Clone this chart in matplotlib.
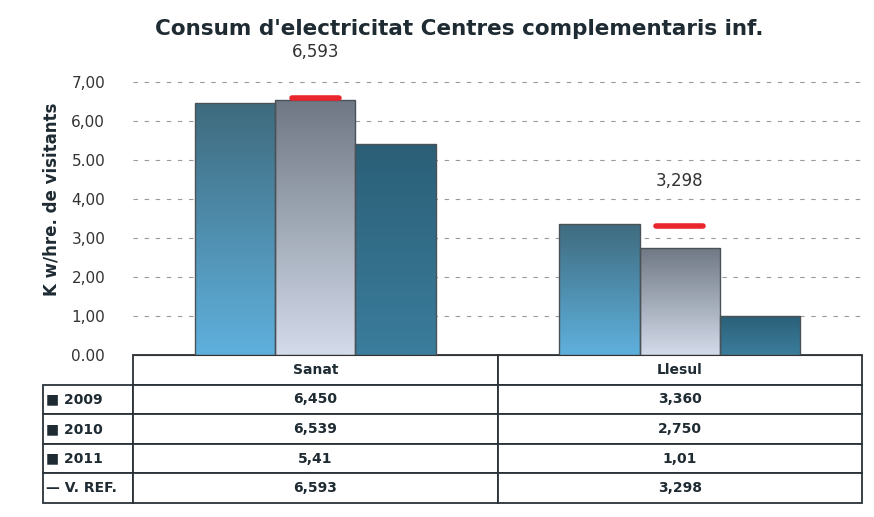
import numpy as np
import matplotlib
matplotlib.use("Agg")
import matplotlib.pyplot as plt
from matplotlib.colors import LinearSegmentedColormap

categories = ["Sanat", "Llesul"]
series = ["2009", "2010", "2011"]
v2009 = [6.450, 3.360]
v2010 = [6.539, 2.750]
v2011 = [5.41, 1.01]
vref = [6.593, 3.298]
cell_text = [["6,450", "3,360"], ["6,539", "2,750"], ["5,41", "1,01"], ["6,593", "3,298"]]
row_labels = ["■ 2009", "■ 2010", "■ 2011", "— V. REF."]
yticks = [0, 1, 2, 3, 4, 5, 6, 7]
ytick_labels = ["0.00", "1,00", "2,00", "3,00", "4,00", "5.00", "6,00", "7,00"]

# gradient top -> bottom for each series
grads = [("#3f6b7e", "#5fb0dd"), ("#6f7884", "#d3dbea"), ("#2b5f77", "#3b7d9c")]
txt = "#1f2b33"

fig = plt.figure(figsize=(8.74, 5.17), dpi=100)
ax = fig.add_axes([133/874, 1-355/517, 729/874, 312/517])
ax.set_xlim(0, 2)
ax.set_ylim(0, 8)

w = 0.22
x = np.arange(len(categories)) + 0.5
for i, vals in enumerate([v2009, v2010, v2011]):
    cmap = LinearSegmentedColormap.from_list("g%d" % i, [grads[i][1], grads[i][0]])
    for xc, v in zip(x, vals):
        x0 = xc + (i - 1) * w - w/2
        rect = ax.bar(x0, v, w, align="edge", color="none", edgecolor="#4a5258", linewidth=1.0, zorder=3)[0]
        grad = np.linspace(0, 1, 100).reshape(-1, 1)
        im = ax.imshow(grad, extent=[x0, x0 + w, 0, v], origin="lower", cmap=cmap, aspect="auto", zorder=2)
        im.set_clip_path(rect)

# reference marks
for xc, v in zip(x, vref):
    ax.plot([xc - 0.065, xc + 0.065], [v, v], color="#e8262c", linewidth=4, solid_capstyle="round", zorder=4)
    ax.annotate(f"{v:.3f}".replace(".", ","), (xc, v), xytext=(0, 33), textcoords="offset points",
                ha="center", va="center", fontsize=12, color="#333333", annotation_clip=False)

ax.set_xlim(0, 2)
ax.set_ylim(0, 8)
ax.set_yticks(yticks)
ax.set_yticklabels(ytick_labels, fontsize=11, color="#333333")
ax.set_xticks([])
ax.tick_params(axis="y", length=0, pad=20)
for y in yticks[1:]:
    ax.axhline(y, color="#9a9a9a", linestyle=(0, (4, 6)), linewidth=0.8, zorder=1)
for s in ["top", "right", "left"]:
    ax.spines[s].set_visible(False)
ax.spines["bottom"].set_color("#333333")

ax.set_ylabel("K w/hre. de visitants", fontsize=12, fontweight="bold", color=txt, labelpad=8)

fig.text(0.525, 1 - 29/517, "Consum d'electricitat Centres complementaris inf.",
         ha="center", va="center", fontsize=15.5, fontweight="bold", color=txt)

# data table
rows = [[rl] + r for rl, r in zip(row_labels, cell_text)]
colw = np.array([90, 729, 729]) / 1548 * 1
colw = [90/819, 364.5/819, 364.5/819]
tab = ax.table(cellText=rows, colLabels=[""] + categories, colWidths=colw,
               cellLoc="center", bbox=[-90/729, -148/312, 819/729, 148/312])
tab.auto_set_font_size(False)
for (r, c), cell in tab.get_celld().items():
    cell.set_edgecolor("#2a3238")
    cell.set_linewidth(1.3)
    cell.get_text().set_fontsize(10)
    cell.get_text().set_fontweight("bold")
    cell.get_text().set_color(txt)
    if c == 0:
        cell.get_text().set_ha("left")
        cell._loc = "left"
        cell.PAD = 0.03
    if r == 0 and c == 0:
        cell.visible_edges = ""

fig.savefig("out.png", dpi=100)
